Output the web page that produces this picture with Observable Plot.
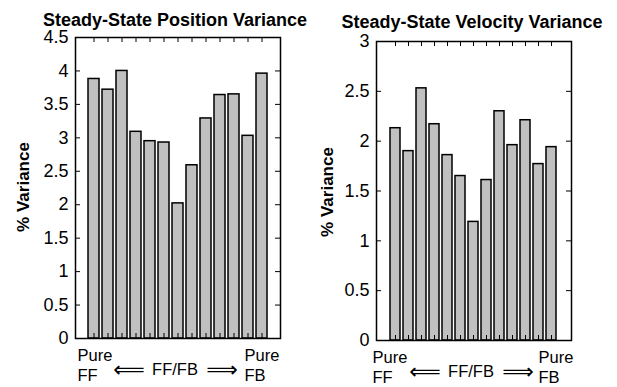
<!DOCTYPE html>
<html>
<head>
<meta charset="utf-8">
<script src="https://cdn.jsdelivr.net/npm/d3@7"></script>
<script src="https://cdn.jsdelivr.net/npm/@observablehq/plot@0.6"></script>
<style>
  html, body { margin: 0; padding: 0; background: #fff; }
  #wrap { display: flex; width: 617px; height: 387px; }
  svg { display: block; }
</style>
</head>
<body>
<div id="wrap"></div>
<script>
const categories = [1, 2, 3, 4, 5, 6, 7, 8, 9, 10, 11, 12, 13];
const positionVariance = [3.88, 3.72, 4.00, 3.09, 2.95, 2.93, 2.02, 2.59, 3.29, 3.64, 3.65, 3.03, 3.96];
const velocityVariance = [2.13, 1.90, 2.53, 2.17, 1.86, 1.65, 1.19, 1.61, 2.30, 1.96, 2.21, 1.77, 1.94];
const positionTicks = [0, 0.5, 1, 1.5, 2, 2.5, 3, 3.5, 4, 4.5];
const velocityTicks = [0, 0.5, 1, 1.5, 2, 2.5, 3];
const titles = ["Steady-State Position Variance", "Steady-State Velocity Variance"];
const yLabel = "% Variance";
const xLabels = ["Pure\nFF", "\u27F8", "FF/FB", "\u27F9", "Pure\nFB"];

const FONT = "'Liberation Sans', Arial, 'DejaVu Sans', sans-serif";

function panel(values, yTicks, title, cfg) {
  const data = categories.map((c, i) => ({c, v: values[i]}));
  const pw = cfg.width - cfg.marginLeft - cfg.marginRight;
  const ph = cfg.height - cfg.marginTop - cfg.marginBottom;
  const txt = {text: d => d, fill: "#000"};
  return Plot.plot({
    width: cfg.width,
    height: cfg.height,
    marginLeft: cfg.marginLeft,
    marginRight: cfg.marginRight,
    marginTop: cfg.marginTop,
    marginBottom: cfg.marginBottom,
    style: {fontFamily: FONT, background: "#fff", color: "#000", overflow: "visible"},
    x: {type: "band", domain: categories, paddingInner: 0.2, paddingOuter: 0.6, axis: null},
    y: {domain: [yTicks[0], yTicks[yTicks.length - 1]], axis: null},
    marks: [
      Plot.barY(data, {x: "c", y: "v", fill: "#c0c0c0", stroke: "#000", strokeWidth: 1.5}),
      // inward ticks left / right
      Plot.tickY(yTicks, {y: d => d, stroke: "#000", strokeWidth: 1, insetRight: pw - 5}),
      Plot.tickY(yTicks, {y: d => d, stroke: "#000", strokeWidth: 1, insetLeft: pw - 5}),
      // inward ticks top / bottom
      Plot.tickX(categories, {x: d => d, stroke: "#000", strokeWidth: 1, insetBottom: ph - 5}),
      Plot.tickX(categories, {x: d => d, stroke: "#000", strokeWidth: 1, insetTop: ph - 5}),
      Plot.axisY(yTicks, {tickSize: 0, tickPadding: 7, fontSize: 18, tickFormat: d => String(d), label: null}),
      Plot.frame({stroke: "#000", strokeWidth: 1.5}),
      Plot.text([title], {...txt, frameAnchor: "top", lineAnchor: "bottom", textAnchor: "middle", dy: cfg.titleDy, dx: cfg.titleDx, fontSize: 18, fontWeight: "bold"}),
      Plot.text([yLabel], {...txt, frameAnchor: "left", textAnchor: "middle", rotate: -90, dx: cfg.labelDx, dy: cfg.labelDy, fontSize: 17, fontWeight: "bold"}),
      Plot.text([xLabels[0]], {...txt, frameAnchor: "bottom-left", textAnchor: "start", lineAnchor: "bottom", dx: cfg.leftLabelDx, dy: cfg.lowDy, fontSize: 16.5, lineHeight: 1.18}),
      Plot.text([xLabels[1]], {...txt, frameAnchor: "bottom", textAnchor: "middle", lineAnchor: "middle", dx: -49, dy: cfg.midDy, fontSize: 22}),
      Plot.text([xLabels[2]], {...txt, frameAnchor: "bottom", textAnchor: "middle", lineAnchor: "middle", dx: -3, dy: cfg.midDy, fontSize: 16.5}),
      Plot.text([xLabels[3]], {...txt, frameAnchor: "bottom", textAnchor: "middle", lineAnchor: "middle", dx: 44, dy: cfg.midDy, fontSize: 22}),
      Plot.text([xLabels[4]], {...txt, frameAnchor: "bottom-right", textAnchor: "start", lineAnchor: "bottom", dx: cfg.rightLabelDx, dy: cfg.lowDy, fontSize: 16.5, lineHeight: 1.18})
    ]
  });
}

const wrap = document.getElementById("wrap");
wrap.append(panel(positionVariance, positionTicks, titles[0], {
  width: 308, height: 387, marginLeft: 75, marginRight: 28, marginTop: 37, marginBottom: 49,
  titleDy: -12, titleDx: -3, labelDx: -52, labelDy: -1,
  leftLabelDx: 2, rightLabelDx: -36, lowDy: 42, midDy: 31
}));
wrap.append(panel(velocityVariance, velocityTicks, titles[1], {
  width: 309, height: 387, marginLeft: 68, marginRight: 46, marginTop: 41, marginBottom: 47,
  titleDy: -14, titleDx: -2, labelDx: -49, labelDy: 1,
  leftLabelDx: -4, rightLabelDx: -33, lowDy: 42, midDy: 31
}));
</script>
</body>
</html>
